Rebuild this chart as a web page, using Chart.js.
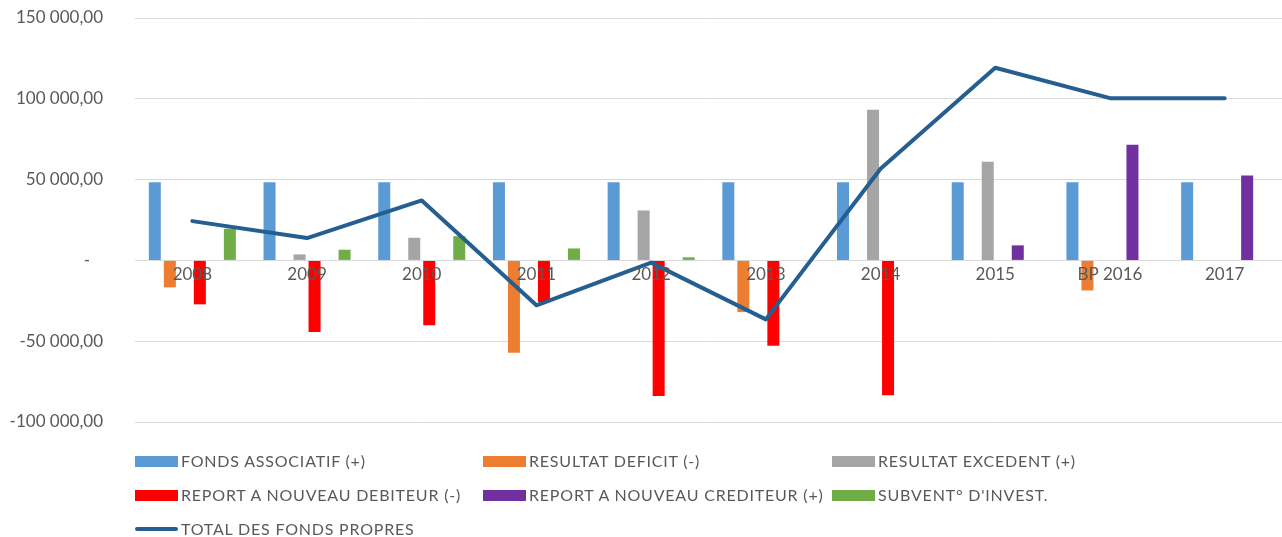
<!DOCTYPE html>
<html>
<head>
<meta charset="utf-8">
<script src="https://cdn.jsdelivr.net/npm/chart.js@4/dist/chart.umd.min.js"></script>
<style>
  html, body { margin: 0; padding: 0; background: #ffffff; }
  #wrap { position: relative; width: 1282px; height: 537px; overflow: hidden; }
  #c { position: absolute; left: 0; top: 0; }
  .lg { position: absolute; font-family: Lato, sans-serif; font-size: 16px; letter-spacing: 0.8px; color: #595959; white-space: nowrap; line-height: 18px; }
  .sw { position: absolute; }
</style>
</head>
<body>
<div id="wrap">
  <canvas id="c" width="1282" height="537"></canvas>
  <div id="legend"></div>
</div>
<script>
const categories = ['2008', '2009', '2010', '2011', '2012', '2013', '2014', '2015', 'BP 2016', '2017'];
const fondsAssociatif  = [48300, 48300, 48300, 48300, 48300, 48300, 48300, 48300, 48300, 48300];
const resultatDeficit  = [-16700, null, null, -57100, null, -32000, null, null, -18600, null];
const resultatExcedent = [null, 3700, 14000, null, 30900, null, 93200, 61000, null, null];
const reportDebiteur   = [-27200, -44300, -40200, -25800, -83900, -52800, -83500, null, null, null];
const reportCrediteur  = [null, null, null, null, null, null, null, 9300, 71600, 52600];
const subventionInvest = [19600, 6600, 15000, 7400, 1900, null, null, null, null, null];
const totalFondsPropres = [24300, 13800, 37100, -27800, -1400, -36500, 56700, 119200, 100400, 100400];
const yTicks = [150000, 100000, 50000, 0, -50000, -100000];

const seriesNames = ['FONDS ASSOCIATIF (+)', 'RESULTAT DEFICIT (-)', 'RESULTAT EXCEDENT (+)',
  'REPORT A NOUVEAU DEBITEUR (-)', 'REPORT A NOUVEAU CREDITEUR (+)', "SUBVENT° D'INVEST.", 'TOTAL DES FONDS PROPRES'];
const colors = ['#5b9bd5', '#ed7d31', '#a5a5a5', '#ff0000', '#7030a0', '#70ad47', '#255e91'];
const barData = [fondsAssociatif, resultatDeficit, resultatExcedent, reportDebiteur, reportCrediteur, subventionInvest];

function fmt(v) {
  if (v === 0) return '-   ';
  const neg = v < 0;
  const s = Math.abs(v).toFixed(0).replace(/\B(?=(\d{3})+(?!\d))/g, ' ');
  return (neg ? '-' : '') + s + ',00';
}

const datasets = barData.map((d, i) => ({
  type: 'bar',
  label: seriesNames[i],
  data: d,
  backgroundColor: colors[i],
  borderWidth: 0,
  categoryPercentage: 0.785,
  barPercentage: 0.8,
  order: 1
}));
datasets.push({
  type: 'line',
  label: seriesNames[6],
  data: totalFondsPropres,
  borderColor: colors[6],
  backgroundColor: colors[6],
  borderWidth: 4,
  pointRadius: 0,
  tension: 0,
  fill: false,
  borderJoinStyle: 'round',
  borderCapStyle: 'round',
  order: 0
});

function zeroPad(s) { s.paddingTop = 0; s.paddingBottom = 0; s.paddingLeft = 0; s.paddingRight = 0; }

new Chart(document.getElementById('c'), {
  type: 'bar',
  data: { labels: categories, datasets: datasets },
  options: {
    responsive: false,
    devicePixelRatio: 1,
    animation: false,
    layout: { padding: { left: 0, right: 0, top: 18, bottom: 115 } },
    plugins: { legend: { display: false }, tooltip: { enabled: false } },
    scales: {
      x: {
        position: { y: 0 },
        offset: true,
        afterFit: (s) => { s.height = 0; zeroPad(s); },
        grid: { display: false, drawTicks: false },
        border: { display: false },
        ticks: { z: 1, color: '#595959', font: { family: 'Lato', size: 17 }, padding: 4, maxRotation: 0, autoSkip: false }
      },
      y: {
        min: -100000,
        max: 150000,
        afterFit: (s) => { s.width = 135; zeroPad(s); },
        afterBuildTicks: (s) => { s.ticks = yTicks.map(v => ({ value: v })); },
        grid: { color: '#d9d9d9', lineWidth: 1, drawTicks: false },
        border: { display: false },
        ticks: { color: '#595959', font: { family: 'Lato', size: 17 }, padding: 32, callback: (v) => fmt(v) }
      }
    }
  }
});

// HTML legend laid out in three columns like the reference
const legend = document.getElementById('legend');
const cols = [135, 483, 832];
const rows = [461, 495, 529];
seriesNames.forEach((name, i) => {
  const col = cols[i % 3], row = rows[Math.floor(i / 3)];
  const sw = document.createElement('div');
  sw.className = 'sw';
  if (i === 6) {
    sw.style.cssText = `left:${col}px;top:${row - 2}px;width:43px;height:4px;background:${colors[i]};border-radius:2px;`;
  } else {
    sw.style.cssText = `left:${col}px;top:${row - 5}px;width:43px;height:11px;background:${colors[i]};`;
  }
  legend.appendChild(sw);
  const t = document.createElement('div');
  t.className = 'lg';
  t.textContent = name;
  t.style.left = (col + 46) + 'px';
  t.style.top = (row - 9) + 'px';
  legend.appendChild(t);
});
</script>
</body>
</html>
